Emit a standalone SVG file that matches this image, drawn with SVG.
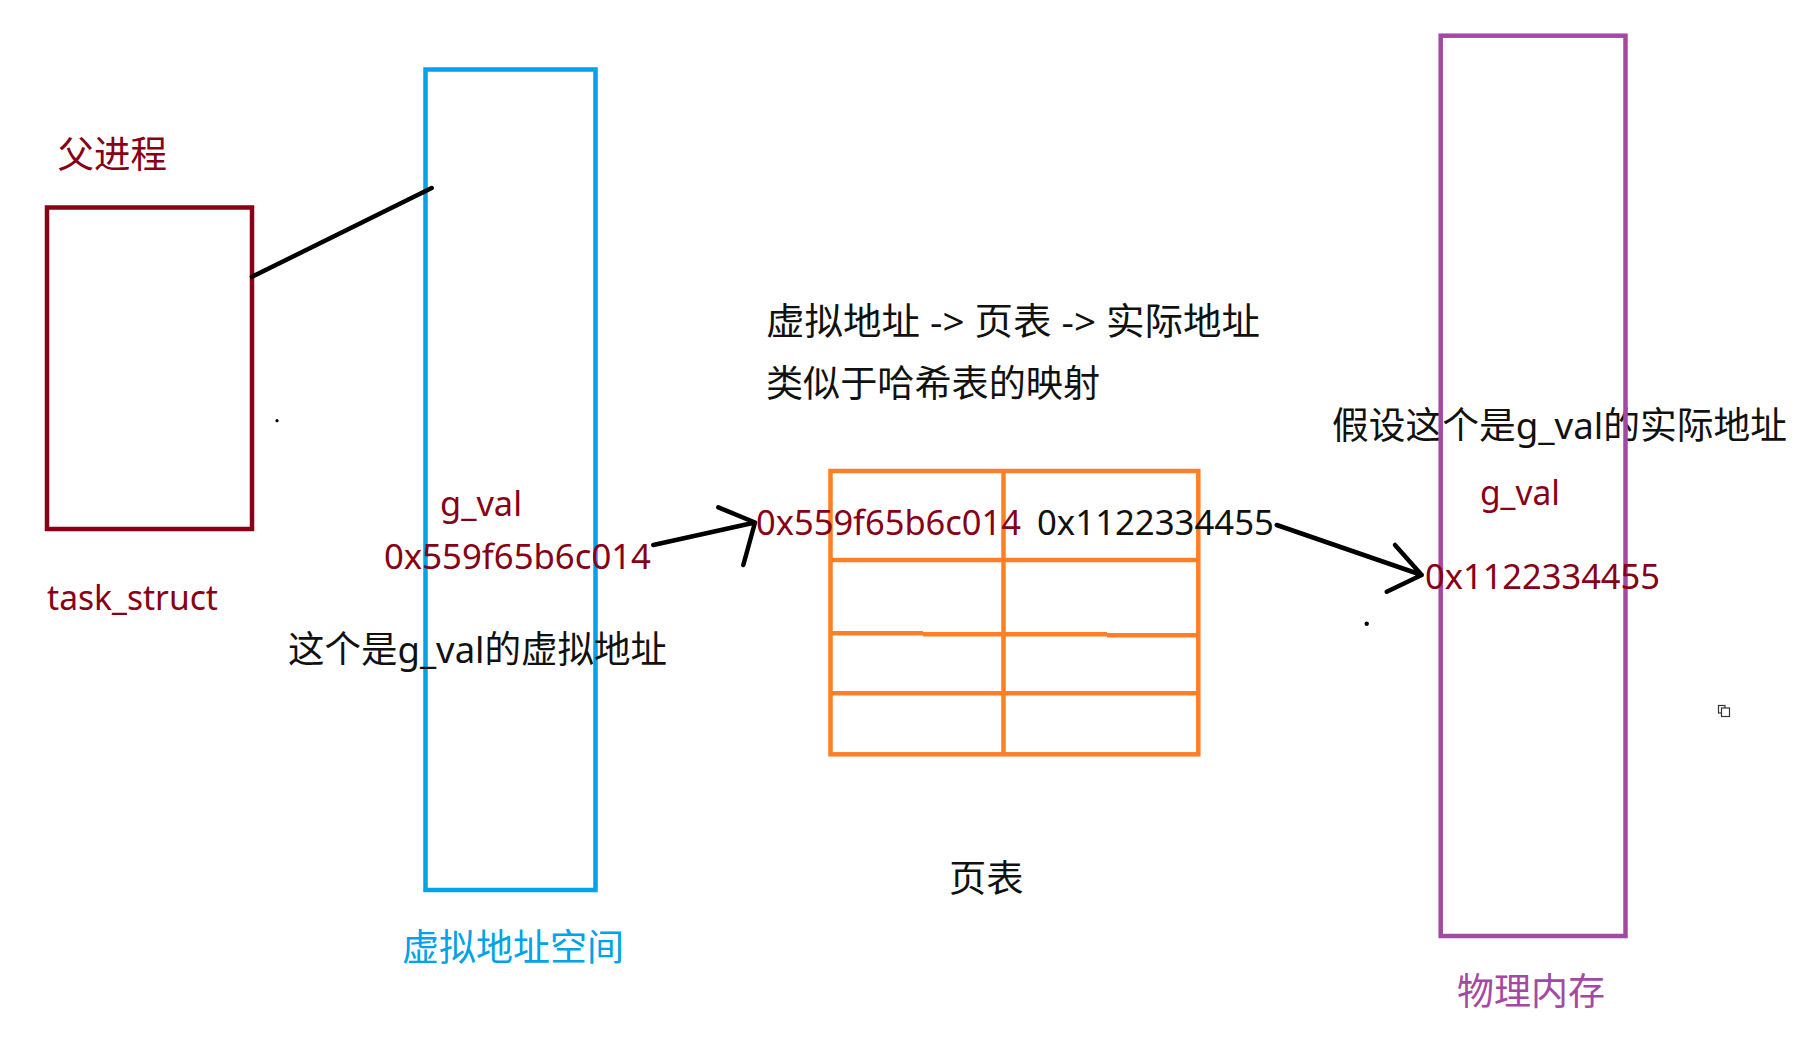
<svg xmlns="http://www.w3.org/2000/svg" width="1803" height="1057" viewBox="0 0 1803 1057">
<style>
text{font-family:"Noto Sans","Noto Sans CJK SC",sans-serif;}
.red{fill:#880015;}
.blk{fill:#111111;}
.blu{fill:#00A2E8;}
.pur{fill:#A349A4;}
.s34{font-size:34px;}
.s37{font-size:37px;}
.box{fill:none;stroke-width:4.5;}
.conn{fill:none;stroke:#000;stroke-width:4.5;stroke-linecap:round;stroke-linejoin:round;}
.tbl{fill:none;stroke:#FF7F27;stroke-width:4.5;}
</style>
<rect width="1803" height="1057" fill="#ffffff"/>

<g id="parent-process">
<text class="red s37" x="57.5" y="168" textLength="109.5" lengthAdjust="spacingAndGlyphs">父进程</text>
<rect class="box" x="47" y="207.5" width="205" height="321.5" stroke="#880015"/>
<text class="red s34" x="47" y="610" textLength="171" lengthAdjust="spacingAndGlyphs">task_struct</text>
</g>

<g id="virtual-space">
<rect class="box" x="425.5" y="69.5" width="170" height="820.5" stroke="#00A2E8"/>
<text class="red s34" x="440" y="516" textLength="82" lengthAdjust="spacingAndGlyphs">g_val</text>
<text class="red s34" x="384" y="569" textLength="267" lengthAdjust="spacingAndGlyphs">0x559f65b6c014</text>
<text class="blk s37" x="288" y="663" textLength="379" lengthAdjust="spacingAndGlyphs">这个是g_val的虚拟地址</text>
<text class="blu s37" x="402" y="961" textLength="222" lengthAdjust="spacingAndGlyphs">虚拟地址空间</text>
</g>

<g id="page-table">
<text class="blk s37" x="766" y="335" textLength="494" lengthAdjust="spacingAndGlyphs">虚拟地址 -&gt; 页表 -&gt; 实际地址</text>
<text class="blk s37" x="766" y="397" textLength="334" lengthAdjust="spacingAndGlyphs">类似于哈希表的映射</text>
<rect class="tbl" x="830.5" y="471" width="367.8" height="283.3"/>
<line class="tbl" x1="1003.5" y1="471" x2="1003.5" y2="754.3"/>
<line class="tbl" x1="830.5" y1="560" x2="1198.3" y2="560"/>
<path class="tbl" d="M830.5 633.2 H923 M923 634.3 H1107 M1107 635.3 H1198.3"/>
<line class="tbl" x1="830.5" y1="693.2" x2="1198.3" y2="693.2"/>
<text class="red s34" x="756" y="535" textLength="265" lengthAdjust="spacingAndGlyphs">0x559f65b6c014</text>
<text class="blk s34" x="1037" y="535" textLength="237" lengthAdjust="spacingAndGlyphs">0x1122334455</text>
<text class="blk s37" x="949" y="892" textLength="74.5" lengthAdjust="spacingAndGlyphs">页表</text>
</g>

<g id="physical-memory">
<text class="blk s37" x="1332" y="439" textLength="455" lengthAdjust="spacingAndGlyphs">假设这个是g_val的实际地址</text>
<rect class="box" x="1440.7" y="35.7" width="184.8" height="900.3" stroke="#A349A4"/>
<text class="red s34" x="1480" y="505" textLength="80" lengthAdjust="spacingAndGlyphs">g_val</text>
<text class="red s34" x="1425" y="589" textLength="235" lengthAdjust="spacingAndGlyphs">0x1122334455</text>
<text class="pur s37" x="1457" y="1005" textLength="148" lengthAdjust="spacingAndGlyphs">物理内存</text>
</g>

<g id="connectors">
<line class="conn" x1="252" y1="276.8" x2="431.7" y2="188"/>
<path class="conn" d="M653.3 545 L755 522.5 M718.3 507.3 L755 522.5 L743.3 565"/>
<path class="conn" d="M1276.7 525 L1421.7 575 M1395 545 L1421.7 575 L1386.7 591.7"/>
</g>

<g id="marks">
<circle cx="277" cy="420.7" r="1.6" fill="#000"/>
<circle cx="1366.7" cy="623.7" r="2.2" fill="#000"/>
<rect x="1718.5" y="705.5" width="6.5" height="7.5" fill="none" stroke="#333" stroke-width="1.2"/>
<rect x="1721.5" y="708" width="8" height="8.5" fill="#fff" stroke="#333" stroke-width="1.2"/>
</g>
</svg>
